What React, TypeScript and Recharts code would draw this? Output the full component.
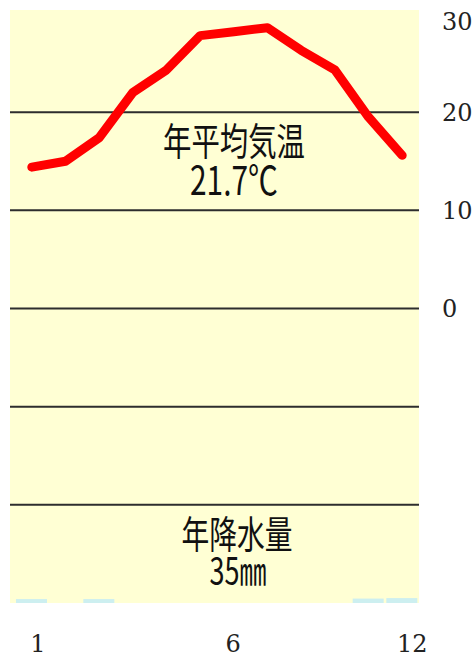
import { ComposedChart, Line, Bar, XAxis, YAxis, ReferenceLine, Customized } from 'recharts';

// monthly climate values
const months = [1, 2, 3, 4, 5, 6, 7, 8, 9, 10, 11, 12];
const temps = [14.4, 15.0, 17.4, 22.0, 24.3, 27.8, 28.2, 28.6, 26.3, 24.3, 19.5, 15.6];
const rain = [8, 0, 8, 0, 0, 0, 0, 0, 0, 0, 9, 10];

const tempTicks = [0, 10, 20, 30];
const gridLines = [20, 10, 0, -10, -20];
const monthLabels = [1, 6, 12];

const avgTempText = '21.7℃';
const totalRainText = '35㎜';

const data = months.map((m, i) => ({ month: m, temp: temps[i], rain: rain[i] }));

const serif = 'DejaVu Serif, serif';
const gothic = '"Noto Sans CJK JP", sans-serif';

// the "6" label sits under the centre text in the original, not under its month
const tickNudge: Record<number, number> = { 1: 6, 6: 33, 12: 10 };

function MonthTick(props: any) {
  const { x, y, payload } = props;
  if (!monthLabels.includes(payload.value)) return <g />;
  return (
    <text x={x + (tickNudge[payload.value] ?? 0)} y={y} dy="0.71em" textAnchor="middle" fontSize={24} fontFamily={serif} fill="#222">
      {payload.value}
    </text>
  );
}

function TempTick(props: any) {
  const { x, y, payload } = props;
  return (
    <text x={x} y={Math.max(y, 21)} dy="0.355em" textAnchor="start" fontSize={24} fontFamily={serif} fill="#222">
      {payload.value}
    </text>
  );
}

function Notes() {
  const items = [
    { t: '年平均気温', x: 234, y: 155, size: 38, w: 142 },
    { t: avgTempText, x: 234, y: 195, size: 40, w: 88 },
    { t: '年降水量', x: 237, y: 548, size: 38, w: 111 },
    { t: totalRainText, x: 238, y: 585, size: 38, w: 57 },
  ];
  return (
    <g>
      {items.map((it) => (
        <text
          key={it.t}
          x={it.x}
          y={it.y}
          textAnchor="middle"
          fontSize={it.size}
          fontFamily={gothic}
          textLength={it.w}
          lengthAdjust="spacingAndGlyphs"
          fill="#111"
        >
          {it.t}
        </text>
      ))}
    </g>
  );
}

export default function App() {
  return (
    <div style={{ position: 'absolute', left: 0, top: 0, width: 473, height: 657, background: '#fff' }}>
      <div style={{ position: 'absolute', left: 10, top: 10, width: 409, height: 593, background: '#ffffd4' }} />
      <div style={{ position: 'absolute', left: 0, top: 0 }}>
        <ComposedChart width={473} height={657} data={data} margin={{ top: 14, right: 0, bottom: 0, left: 10 }}>
          <XAxis
            dataKey="month"
            type="category"
            height={54}
            padding={{ left: 5, right: 0 }}
            axisLine={false}
            tickLine={false}
            tickSize={0}
            tickMargin={32}
            interval={0}
            tick={<MonthTick />}
          />
          <YAxis
            yAxisId="t"
            orientation="right"
            width={54}
            domain={[-30, 30]}
            ticks={tempTicks}
            axisLine={false}
            tickLine={false}
            tickSize={0}
            tickMargin={23}
            tick={<TempTick />}
          />
          <YAxis yAxisId="p" orientation="left" hide domain={[0, 1200]} />
          {gridLines.map((v) => (
            <ReferenceLine key={v} yAxisId="t" y={v} stroke="#2d2d2d" strokeWidth={2} />
          ))}
          <Bar yAxisId="p" dataKey="rain" fill="#cdeff0" barSize={31} isAnimationActive={false} />
          <Line
            yAxisId="t"
            type="linear"
            dataKey="temp"
            stroke="#ff0000"
            strokeWidth={9}
            strokeLinecap="round"
            strokeLinejoin="round"
            dot={false}
            activeDot={false}
            isAnimationActive={false}
          />
          <Customized component={<Notes />} />
        </ComposedChart>
      </div>
    </div>
  );
}
